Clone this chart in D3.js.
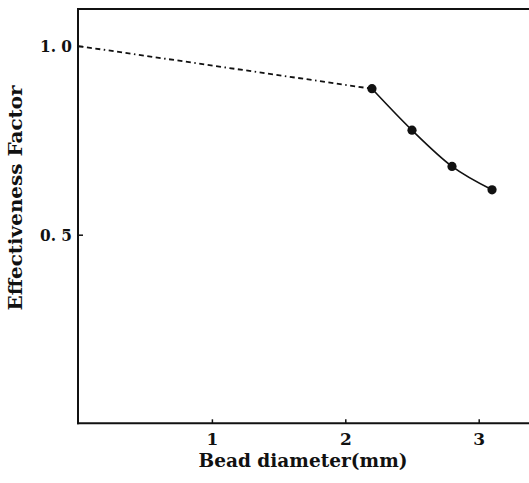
<!DOCTYPE html>
<html lang="en">
<head>
<meta charset="UTF-8">
<title>Effectiveness Factor</title>
<script src="https://d3js.org/d3.v7.min.js"></script>
<style>
    body { margin: 0; background: #fff; }
    text { font-family: "DejaVu Serif", "Liberation Serif", serif; font-weight: bold; fill: #111; }
</style>
</head>
<body>
<svg id="canvas" width="529" height="483"></svg>
<script>
    // data
    let extrapX = [0, 2.2];
    let extrapY = [1.0, 0.887];
    let beadX = [2.2, 2.5, 2.8, 3.1];
    let beadY = [0.887, 0.777, 0.681, 0.619];
    let xTicks = [1, 2, 3];
    let yTicks = [0.5, 1.0];
    let yTickLabels = ["0.\u00a05", "1.\u00a00"];

    let plotLeft = 78, plotTop = 9, plotBottom = 423.3, plotRight = 529;
    let x = d3.scaleLinear().domain([0, 3.4]).range([plotLeft + 0.5, plotLeft + 0.5 + 3.4 * 133.4]);
    let y = d3.scaleLinear().domain([0, 1.1]).range([plotBottom, plotBottom - 1.1 * 377.2]);

    let svg = d3.select('#canvas');
    let serif = '"DejaVu Serif", serif';

    // frame: left, top, bottom (no right border)
    let frame = svg.append('g').attr('stroke', '#111').attr('stroke-width', 2).attr('fill', 'none');
    frame.append('line').attr('x1', plotLeft).attr('x2', plotLeft).attr('y1', plotTop).attr('y2', plotBottom + 1);
    frame.append('line').attr('x1', plotLeft - 1).attr('x2', plotRight).attr('y1', plotTop).attr('y2', plotTop);
    frame.append('line').attr('x1', plotLeft - 1).attr('x2', plotRight).attr('y1', plotBottom).attr('y2', plotBottom);

    // x axis, inward ticks
    let xAxis = svg.append('g').attr('transform', 'translate(0,' + plotBottom + ')')
        .call(d3.axisBottom(x).tickValues(xTicks).tickSize(-4).tickFormat(d3.format('d')));
    xAxis.select('.domain').remove();
    xAxis.selectAll('text').attr('font-size', 17).attr('dy', null).attr('y', 22)
        .style('font-family', serif).style('font-weight', 'bold');
    xAxis.selectAll('line').attr('stroke', '#111').attr('stroke-width', 1.5);

    // y axis
    let yAxis = svg.append('g').attr('transform', 'translate(' + plotLeft + ',0)')
        .call(d3.axisLeft(y).tickValues(yTicks).tickSize(-5).tickPadding(6)
            .tickFormat((d, i) => yTickLabels[i]));
    yAxis.select('.domain').remove();
    yAxis.selectAll('text').attr('font-size', 17.5)
        .attr('textLength', 32).attr('lengthAdjust', 'spacingAndGlyphs')
        .style('font-family', serif).style('font-weight', 'bold');
    yAxis.selectAll('line').attr('stroke', '#111').attr('stroke-width', 1.5);

    // dashed extrapolation
    let line = d3.line().x(d => x(d[0])).y(d => y(d[1]));
    svg.append('path')
        .datum(d3.zip(extrapX, extrapY))
        .attr('d', line)
        .attr('fill', 'none')
        .attr('stroke', '#111')
        .attr('stroke-width', 1.8)
        .attr('stroke-dasharray', '5,3.5,5,3.5,5,3.5,1.5,3.5');

    // measured curve
    svg.append('path')
        .datum(d3.zip(beadX, beadY))
        .attr('d', line.curve(d3.curveMonotoneX))
        .attr('fill', 'none')
        .attr('stroke', '#111')
        .attr('stroke-width', 1.6);

    svg.selectAll('circle.pt')
        .data(d3.zip(beadX, beadY))
        .enter().append('circle')
        .attr('class', 'pt')
        .attr('cx', d => x(d[0]))
        .attr('cy', d => y(d[1]))
        .attr('r', 4.6)
        .attr('fill', '#111');

    // axis titles
    svg.append('text')
        .attr('x', 303).attr('y', 467)
        .attr('text-anchor', 'middle')
        .attr('font-size', 18)
        .attr('textLength', 209).attr('lengthAdjust', 'spacingAndGlyphs')
        .text('Bead diameter(mm)');

    svg.append('text')
        .attr('transform', 'translate(22,198) rotate(-90)')
        .attr('text-anchor', 'middle')
        .attr('font-size', 18)
        .attr('textLength', 225).attr('lengthAdjust', 'spacingAndGlyphs')
        .text('Effectiveness Factor');
</script>
</body>
</html>
